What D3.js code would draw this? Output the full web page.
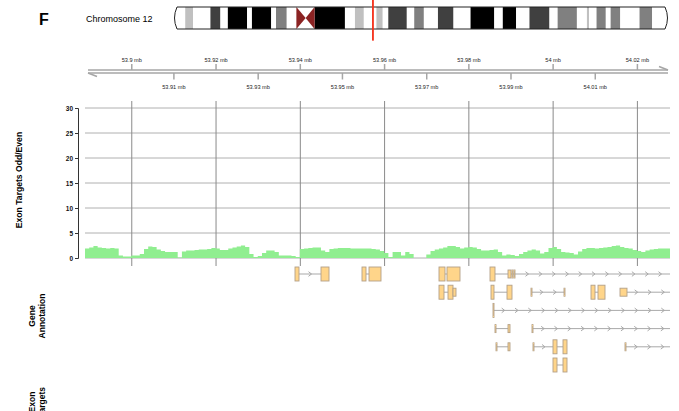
<!DOCTYPE html>
<html>
<head>
<meta charset="utf-8">
<script src="https://cdn.jsdelivr.net/npm/d3@7"></script>
<style>
  html, body { margin: 0; padding: 0; background: #fff; }
  svg { display: block; font-family: "Liberation Sans", Arial, Helvetica, sans-serif; }
</style>
</head>
<body>
<svg id="chart" width="679" height="411"></svg>
<script>
// ---- Region on chr12 (bp) ----
const panelLetter = "F";
const chromosomeName = "Chromosome 12";
const chromLength = 133851895;
const regionStart = 53888900;
const regionEnd = 54027500;

// ---- Cytobands of chromosome 12: [start, end, stain] ----
const cytoBands = [
  [0, 3300000, "gneg"], [3300000, 5400000, "gpos25"], [5400000, 10100000, "gneg"],
  [10100000, 12800000, "gpos75"], [12800000, 14800000, "gneg"], [14800000, 20000000, "gpos100"],
  [20000000, 21300000, "gneg"], [21300000, 26500000, "gpos100"], [26500000, 27800000, "gneg"],
  [27800000, 30700000, "gpos50"], [30700000, 33300000, "gneg"], [33300000, 35800000, "acenP"],
  [35800000, 38200000, "acenQ"], [38200000, 46400000, "gpos100"], [46400000, 49100000, "gneg"],
  [49100000, 51500000, "gpos25"], [51500000, 54900000, "gneg"], [54900000, 56600000, "gpos25"],
  [56600000, 58100000, "gneg"], [58100000, 63100000, "gpos75"], [63100000, 65100000, "gneg"],
  [65100000, 67700000, "gpos50"], [67700000, 71500000, "gneg"], [71500000, 75700000, "gpos75"],
  [75700000, 80300000, "gneg"], [80300000, 86700000, "gpos100"], [86700000, 89000000, "gneg"],
  [89000000, 92600000, "gpos100"], [92600000, 96200000, "gneg"], [96200000, 101600000, "gpos75"],
  [101600000, 103800000, "gneg"], [103800000, 109000000, "gpos50"], [109000000, 111700000, "gneg"],
  [111700000, 112300000, "gpos25"], [112300000, 114300000, "gneg"], [114300000, 116800000, "gpos50"],
  [116800000, 118100000, "gneg"], [118100000, 120700000, "gpos50"], [120700000, 125900000, "gneg"],
  [125900000, 129300000, "gpos50"], [129300000, 133851895, "gneg"]
];

// ---- Genome axis tick labels (mb) ----
const ticksAbove = [53.9, 53.92, 53.94, 53.96, 53.98, 54, 54.02];
const ticksBelow = [53.91, 53.93, 53.95, 53.97, 53.99, 54.01];

// ---- Exon target coverage, 1 kb windows starting at coverageStart ----
const coverageStart = 53888900;
const coverageStep = 1000;
const coverageValues = [
  1.9, 2.1, 2.4, 2.1, 2.0, 1.9, 2.0, 1.9, 0.5, 0.3,
  0.3, 0.5, 0.5, 0.8, 1.8, 2.3, 2.2, 1.7, 1.4, 1.2,
  1.2, 1.2, 0.1, 1.3, 1.5, 1.5, 1.6, 1.7, 1.7, 1.8,
  2.0, 1.9, 1.6, 1.6, 1.9, 2.1, 2.3, 2.5, 2.2, 0.8,
  0.2, 0.4, 1.0, 1.5, 1.5, 1.2, 0.5, 0.5, 0.5, 0.4,
  0.2, 1.8, 1.9, 2.0, 2.1, 2.1, 1.5, 1.2, 1.8, 1.9,
  2.0, 2.0, 2.0, 1.9, 1.9, 1.9, 1.9, 1.9, 1.8, 1.7,
  1.4, 1.0, 0.2, 1.2, 1.2, 0.5, 1.2, 0.8, 0, 0,
  0, 0.7, 1.4, 1.7, 1.9, 2.1, 2.4, 2.4, 2.2, 1.9,
  2.1, 2.2, 2.1, 1.8, 1.5, 1.5, 1.6, 1.7, 1.2, 0.5,
  0.7, 0.6, 0.4, 0.8, 1.2, 1.5, 1.7, 1.5, 0.9, 1.2,
  2.0, 2.2, 1.8, 1.2, 1.1, 1.0, 0.7, 1.3, 1.8, 2.0,
  2.0, 1.9, 2.0, 2.1, 2.2, 2.4, 2.5, 2.2, 2.0, 1.9,
  1.6, 1.4, 1.2, 1.5, 1.7, 1.8, 1.9, 1.9, 1.9
];
const yTicks = [0, 5, 10, 15, 20, 25, 30];

// ---- Gene models: exons as [start, end, kind] (c = coding, u = UTR) ----
const transcripts = [
  [[53938740, 53939689, "c"], [53944910, 53946809, "c"]],
  [[53954640, 53955590, "c"], [53956302, 53959150, "c"]],
  [[53972915, 53974339, "c"], [53974813, 53977899, "c"]],
  [[53972915, 53974101, "c"], [53975051, 53976237, "c"], [53976237, 53976949, "u"]],
  [[53985019, 53986205, "c"], [53989291, 53990003, "u"], [53990240, 53990480, "u"], [53990715, 53990950, "u"], [54041000, 54042000, "u"]],
  [[53985256, 53985968, "c"], [53989054, 53990240, "c"]],
  [[53985731, 53985968, "c"], [54050000, 54051000, "c"]],
  [[53986205, 53986442, "u"], [53989291, 53989766, "u"]],
  [[53986442, 53986679, "u"], [53989291, 53989766, "u"]],
  [[53994749, 53994986, "u"], [54002581, 54002818, "u"]],
  [[53994986, 53995223, "u"], [54048000, 54049000, "u"]],
  [[53995223, 53995460, "u"], [53999970, 54000920, "c"], [54002344, 54003293, "c"]],
  [[53999970, 54000920, "c"], [54002344, 54003293, "c"]],
  [[54008989, 54009937, "c"], [54010650, 54012312, "c"]],
  [[54015872, 54017533, "u"], [54055000, 54056000, "u"]],
  [[54017058, 54017295, "u"], [54055000, 54056000, "u"]]
];

// ---- Track titles ----
const dataTrackTitle = "Exon Targets Odd/Even";
const geneTrackTitle = ["Gene", "Annotation"];
const targetTrackTitle = ["Exon", "Targets"];

// =====================================================================
const svg = d3.select("#chart");
svg.append("rect").attr("width", 679).attr("height", 411).attr("fill", "#fff");

const plotLeft = 85, plotRight = 669;
const x = d3.scaleLinear().domain([regionStart, regionEnd]).range([plotLeft, plotRight]);
const mb = v => Math.round(v * 1e6);

// ---------- Ideogram ----------
const ideoTop = 7, ideoBottom = 29, ideoMid = (ideoTop + ideoBottom) / 2;
const ix = d3.scaleLinear().domain([0, chromLength]).range([173, 669]);
const stainColor = {
  gneg: "#ffffff", gpos25: "#c0c0c0", gpos50: "#808080",
  gpos75: "#404040", gpos100: "#000000"
};

svg.append("text").attr("x", 39).attr("y", 25)
  .attr("font-size", 16).attr("font-weight", "bold").text(panelLetter);
svg.append("text").attr("x", 86).attr("y", 21.5)
  .attr("font-size", 9).text(chromosomeName);

const cen = cytoBands.filter(b => b[2].startsWith("acen"));
const cenMid = ix(cen[0][1]);
const pEnd = ix(cen[0][0]), qStart = ix(cen[1][1]);
const L = ix(0), R = ix(chromLength);

const outline = `M${L + 4},${ideoTop} L${pEnd},${ideoTop} L${cenMid},${ideoMid} L${qStart},${ideoTop}` +
  ` L${R - 4},${ideoTop} Q${R + 1},${ideoMid} ${R - 4},${ideoBottom} L${qStart},${ideoBottom}` +
  ` L${cenMid},${ideoMid} L${pEnd},${ideoBottom} L${L + 4},${ideoBottom} Q${L - 1},${ideoMid} ${L + 4},${ideoTop} Z`;

svg.append("clipPath").attr("id", "ideoClip")
  .append("rect").attr("x", 0).attr("y", ideoTop).attr("width", 679).attr("height", ideoBottom - ideoTop);
const armsClip = svg.append("clipPath").attr("id", "armClip");
armsClip.append("path")
  .attr("d", `M${L + 4},${ideoTop} L${R - 4},${ideoTop} Q${R + 1},${ideoMid} ${R - 4},${ideoBottom} L${L + 4},${ideoBottom} Q${L - 1},${ideoMid} ${L + 4},${ideoTop} Z`);

const ideo = svg.append("g").attr("clip-path", "url(#armClip)");
ideo.selectAll("rect.band")
  .data(cytoBands.filter(b => !b[2].startsWith("acen")))
  .join("rect").attr("class", "band")
  .attr("x", d => ix(d[0])).attr("width", d => ix(d[1]) - ix(d[0]))
  .attr("y", ideoTop).attr("height", ideoBottom - ideoTop)
  .attr("fill", d => stainColor[d[2]]);
// centromere triangles
ideo.selectAll("path.acen").data(cen).join("path").attr("class", "acen")
  .attr("d", d => d[2] === "acenP"
    ? `M${ix(d[0])},${ideoTop} L${ix(d[1])},${ideoMid} L${ix(d[0])},${ideoBottom} Z`
    : `M${ix(d[1])},${ideoTop} L${ix(d[0])},${ideoMid} L${ix(d[1])},${ideoBottom} Z`)
  .attr("fill", "#8b2323");
svg.append("path")
  .attr("d", `M${L + 4},${ideoTop} L${R - 4},${ideoTop} Q${R + 1},${ideoMid} ${R - 4},${ideoBottom} L${L + 4},${ideoBottom} Q${L - 1},${ideoMid} ${L + 4},${ideoTop} Z`)
  .attr("fill", "none").attr("stroke", "#222").attr("stroke-width", 1);
// current region marker
svg.append("rect")
  .attr("x", ix(regionStart)).attr("width", Math.max(0.5, ix(regionEnd) - ix(regionStart)))
  .attr("y", 0).attr("height", 40)
  .attr("fill", "none").attr("stroke", "#f5301a").attr("stroke-width", 1.3);

// ---------- Genome axis ----------
const axisCol = "#a6a6a6";
const axUp = 70, axLo = 73;
const axL = x(regionStart) + 3, axR = x(regionEnd) - 1;
const gAxis = svg.append("g");
gAxis.append("line").attr("x1", axL).attr("x2", axR).attr("y1", axUp).attr("y2", axUp)
  .attr("stroke", axisCol).attr("stroke-width", 1.6);
gAxis.append("line").attr("x1", axL).attr("x2", axR).attr("y1", axLo).attr("y2", axLo)
  .attr("stroke", axisCol).attr("stroke-width", 1.6);
gAxis.append("line").attr("x1", axR).attr("x2", axR - 9).attr("y1", axUp).attr("y2", axUp - 3.5)
  .attr("stroke", axisCol).attr("stroke-width", 1.6);
gAxis.append("line").attr("x1", axL).attr("x2", axL + 9).attr("y1", axLo).attr("y2", axLo + 3.5)
  .attr("stroke", axisCol).attr("stroke-width", 1.6);

const fmt = v => `${v} mb`;
gAxis.selectAll("line.tu").data(ticksAbove).join("line").attr("class", "tu")
  .attr("x1", d => x(mb(d))).attr("x2", d => x(mb(d)))
  .attr("y1", axUp).attr("y2", axUp - 6)
  .attr("stroke", axisCol).attr("stroke-width", 1.5);
gAxis.selectAll("text.lu").data(ticksAbove).join("text").attr("class", "lu")
  .attr("x", d => x(mb(d))).attr("y", 62)
  .attr("text-anchor", "middle").attr("font-size", 5.6).attr("fill", "#222")
  .text(fmt);
gAxis.selectAll("line.tl").data(ticksBelow).join("line").attr("class", "tl")
  .attr("x1", d => x(mb(d))).attr("x2", d => x(mb(d)))
  .attr("y1", axLo).attr("y2", axLo + 6.5)
  .attr("stroke", axisCol).attr("stroke-width", 1.5);
gAxis.selectAll("text.ll").data(ticksBelow).join("text").attr("class", "ll")
  .attr("x", d => x(mb(d))).attr("y", 88.5)
  .attr("text-anchor", "middle").attr("font-size", 5.6).attr("fill", "#222")
  .text(fmt);

// ---------- Data track ----------
const y = d3.scaleLinear().domain([0, 30]).range([258, 108]);
const gData = svg.append("g");

gData.selectAll("line.hg").data(yTicks).join("line").attr("class", "hg")
  .attr("x1", plotLeft).attr("x2", 670)
  .attr("y1", d => y(d)).attr("y2", d => y(d))
  .attr("stroke", "#b0b0b0").attr("stroke-width", 1);
gData.selectAll("line.vg").data(ticksAbove).join("line").attr("class", "vg")
  .attr("x1", d => x(mb(d))).attr("x2", d => x(mb(d)))
  .attr("y1", 101).attr("y2", 266)
  .attr("stroke", "#8a8a8a").attr("stroke-width", 1);

const covPts = coverageValues.map((v, i) => [coverageStart + i * coverageStep, v]);
covPts.push([coverageStart + coverageValues.length * coverageStep, coverageValues[coverageValues.length - 1]]);
svg.append("clipPath").attr("id", "dataClip")
  .append("rect").attr("x", plotLeft).attr("y", 100).attr("width", 670 - plotLeft).attr("height", 170);
gData.append("path").datum(covPts)
  .attr("clip-path", "url(#dataClip)")
  .attr("d", d3.area().curve(d3.curveStepAfter)
    .x(d => x(d[0])).y0(y(0)).y1(d => y(d[1])))
  .attr("fill", "#90ee90");

const yAxis = d3.axisLeft(y).tickValues(yTicks).tickSize(3).tickPadding(2);
const gy = gData.append("g").attr("transform", "translate(78,0)").call(yAxis);
gy.select(".domain").attr("stroke", "#333").attr("stroke-width", 1);
gy.selectAll(".tick line").attr("stroke", "#333");
gy.selectAll(".tick text").attr("font-size", 6.5).attr("font-weight", "bold")
  .attr("font-family", "'Liberation Sans', Arial, sans-serif").attr("fill", "#111");

svg.append("text")
  .attr("transform", "translate(22,180) rotate(-90)")
  .attr("text-anchor", "middle").attr("font-size", 8.6).attr("font-weight", "bold")
  .text(dataTrackTitle);

// ---------- Gene annotation track ----------
const rowY0 = 274, rowStep = 18.2, gapPx = 5;
const models = transcripts.map(ex => ({
  exons: ex, start: d3.min(ex, e => e[0]), end: d3.max(ex, e => e[1])
})).sort((a, b) => a.start - b.start);
const rowEnds = [];
models.forEach(m => {
  let r = rowEnds.findIndex(e => x(m.start) - x(e) > gapPx);
  if (r < 0) { r = rowEnds.length; rowEnds.push(m.end); } else rowEnds[r] = m.end;
  m.row = r;
});

svg.append("clipPath").attr("id", "geneClip")
  .append("rect").attr("x", plotLeft).attr("y", 262).attr("width", 670 - plotLeft).attr("height", 120);
const gGene = svg.append("g").attr("clip-path", "url(#geneClip)");
const lineCol = "#a9a9a9", arrowSpacing = 13.3;

models.forEach(m => {
  const cy = rowY0 + m.row * rowStep;
  const g = gGene.append("g");
  const ex = m.exons.slice().sort((a, b) => a[0] - b[0]);
  for (let i = 0; i < ex.length - 1; i++) {
    const a = x(ex[i][1]), b = x(ex[i + 1][0]);
    g.append("line").attr("x1", a).attr("x2", b).attr("y1", cy).attr("y2", cy)
      .attr("stroke", lineCol).attr("stroke-width", 1);
    const len = Math.min(b, 672) - a;
    const n = Math.floor((len - 4) / arrowSpacing);
    if (n >= 1) {
      const off = (len - (n - 1) * arrowSpacing) / 2;
      for (let k = 0; k < n; k++) {
        const ax = a + off + k * arrowSpacing;
        g.append("path").attr("d", `M${ax - 1.5},${cy - 2.3} L${ax + 1.5},${cy} L${ax - 1.5},${cy + 2.3}`)
          .attr("fill", "none").attr("stroke", lineCol).attr("stroke-width", 1);
      }
    }
  }
  g.selectAll("rect").data(ex).join("rect")
    .attr("x", d => x(d[0]))
    .attr("width", d => Math.max(0.6, x(d[1]) - x(d[0])))
    .attr("y", d => cy - (d[2] === "c" ? 7 : 4))
    .attr("height", d => d[2] === "c" ? 14 : 8)
    .attr("fill", "#ffd58a").attr("stroke", "#b3a088").attr("stroke-width", 0.9);
});

const title2 = svg.append("text").attr("text-anchor", "middle")
  .attr("font-size", 8.5).attr("font-weight", "bold")
  .attr("transform", "translate(35,316) rotate(-90)");
title2.append("tspan").attr("x", 0).attr("y", 0).text(geneTrackTitle[0]);
title2.append("tspan").attr("x", 0).attr("y", 10).text(geneTrackTitle[1]);

const title3 = svg.append("text").attr("text-anchor", "middle")
  .attr("font-size", 8.5).attr("font-weight", "bold")
  .attr("transform", "translate(35,402) rotate(-90)");
title3.append("tspan").attr("x", 0).attr("y", 0).text(targetTrackTitle[0]);
title3.append("tspan").attr("x", 0).attr("y", 10).text(targetTrackTitle[1]);
</script>
</body>
</html>
